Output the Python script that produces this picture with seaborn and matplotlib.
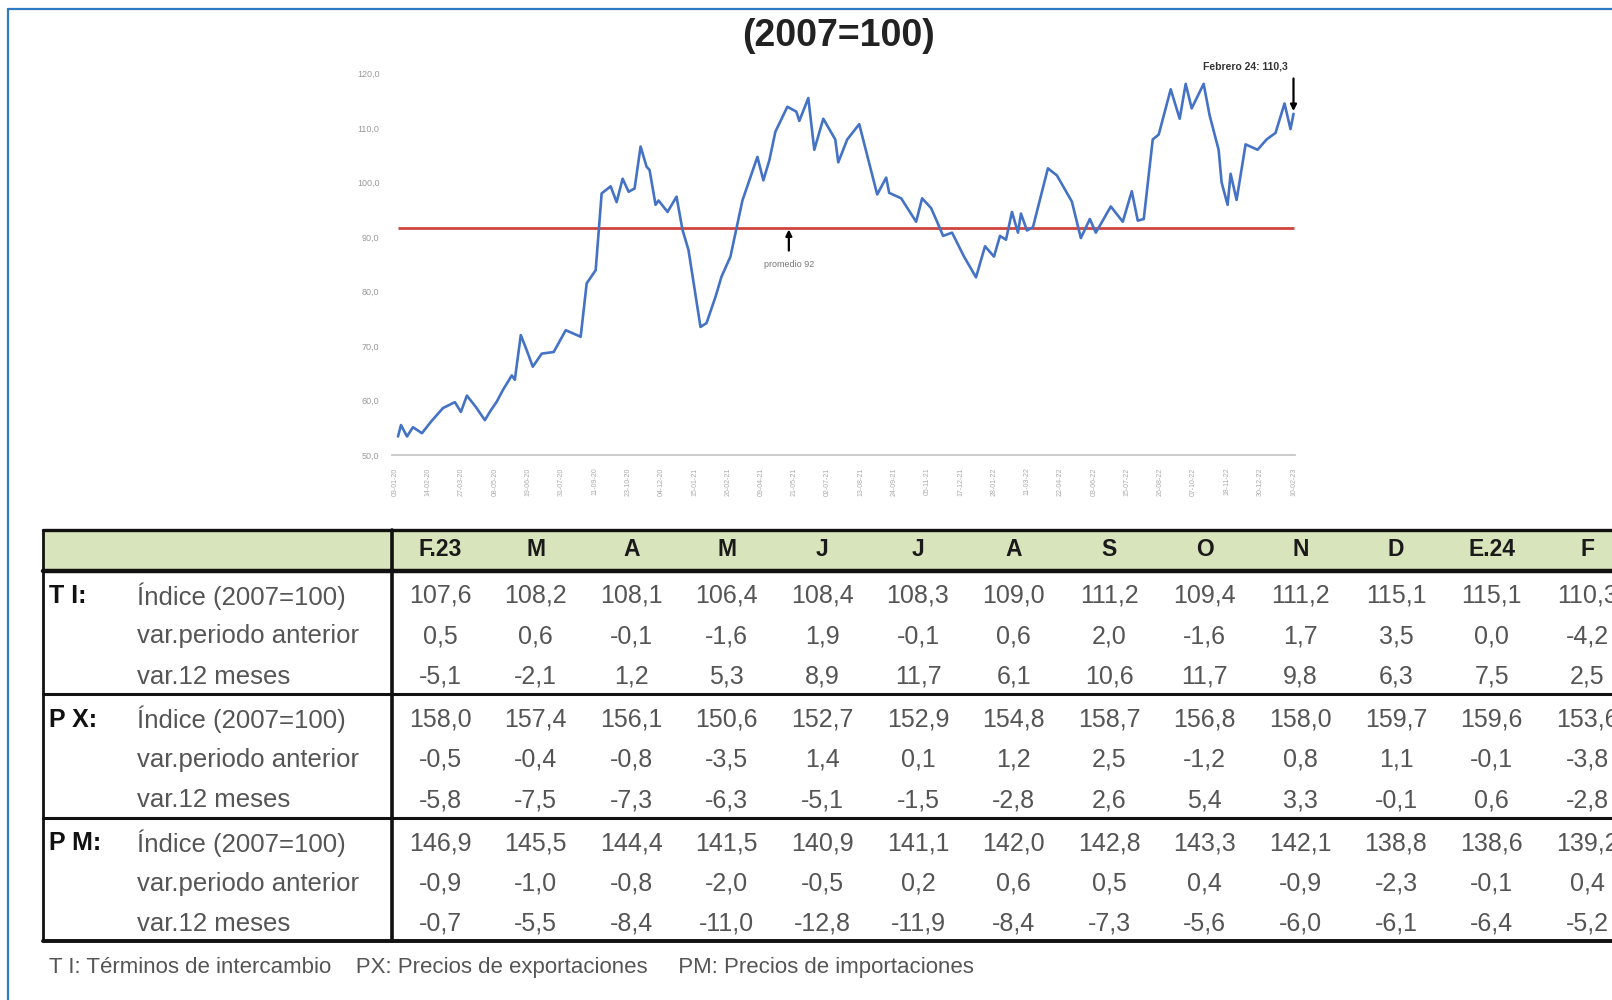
##
# Terms of trade index (2007=100): weekly line + summary table
##

import matplotlib
matplotlib.use("Agg")
import matplotlib.pyplot as plt
from matplotlib.patches import Rectangle
import pandas as pd
import seaborn as sns

# Weekly index (x = week number)
semana = [1, 2, 4, 6, 9, 12, 16, 20, 22, 24, 27, 30, 32, 34, 36, 39, 40, 42, 44, 46,
          49, 53, 57, 62, 64, 67, 69, 72, 74, 76, 78, 80, 82, 84, 85, 87, 88, 91, 94, 96,
          98, 102, 104, 107, 109, 112, 116, 118, 121, 123, 125, 127, 131, 134, 135, 138, 140, 143, 147, 148,
          151, 155, 161, 164, 165, 169, 174, 176, 179, 181, 183, 186, 190, 194, 197, 200, 202, 204, 206, 208,
          209, 211, 213, 218, 221, 226, 229, 232, 234, 239, 243, 246, 248, 250, 253, 255, 259, 262, 264, 266,
          270, 272, 275, 276, 278, 279, 281, 284, 288, 291, 294, 297, 299, 300]
indice = [53.4, 55.5, 53.4, 55.1, 54.0, 56.1, 58.6, 59.7, 57.9, 60.9, 58.8, 56.4, 58.2, 59.8, 61.9, 64.6, 63.8, 72.0, 69.2, 66.2,
          68.6, 68.9, 72.9, 71.7, 81.5, 83.9, 98.0, 99.3, 96.4, 100.7, 98.3, 98.9, 106.6, 102.9, 102.3, 95.9, 96.7, 94.6, 97.4, 91.3,
          87.6, 73.5, 74.2, 79.0, 82.7, 86.4, 96.7, 99.9, 104.7, 100.4, 104.1, 109.3, 113.9, 113.0, 111.3, 115.5, 106.0, 111.7, 107.9, 103.7,
          107.9, 110.7, 97.8, 100.9, 98.1, 97.1, 92.8, 97.1, 95.3, 92.8, 90.2, 90.8, 86.4, 82.6, 88.3, 86.4, 90.2, 89.5, 94.6, 90.8,
          94.3, 91.2, 91.8, 102.6, 101.3, 96.5, 89.8, 93.3, 90.8, 95.6, 92.8, 98.4, 93.0, 93.3, 107.9, 108.8, 117.1, 111.7, 118.1, 113.6,
          118.1, 112.3, 106.0, 100.0, 95.9, 101.6, 96.8, 107.0, 106.0, 107.9, 109.1, 114.5, 109.8, 112.6]
promedio = 91.6
texto_promedio = "promedio 92"
texto_ultimo = "Febrero 24: 110,3"

y_ticks = [50, 60, 70, 80, 90, 100, 110, 120]
x_tick_labels = ["03-01-20", "14-02-20", "27-03-20", "08-05-20", "19-06-20", "31-07-20", "11-09-20",
                 "23-10-20", "04-12-20", "15-01-21", "26-02-21", "09-04-21", "21-05-21", "02-07-21",
                 "13-08-21", "24-09-21", "05-11-21", "17-12-21", "28-01-22", "11-03-22", "22-04-22",
                 "03-06-22", "15-07-22", "26-08-22", "07-10-22", "18-11-22", "30-12-22", "10-02-23"]

# Table
meses = ["F.23", "M", "A", "M", "J", "J", "A", "S", "O", "N", "D", "E.24", "F"]
bloques = ["T I:", "P X:", "P M:"]
filas = ["Índice (2007=100)", "var.periodo anterior", "var.12 meses"]

ti_indice = ["107,6", "108,2", "108,1", "106,4", "108,4", "108,3", "109,0", "111,2", "109,4", "111,2", "115,1", "115,1", "110,3"]
ti_var = ["0,5", "0,6", "-0,1", "-1,6", "1,9", "-0,1", "0,6", "2,0", "-1,6", "1,7", "3,5", "0,0", "-4,2"]
ti_12m = ["-5,1", "-2,1", "1,2", "5,3", "8,9", "11,7", "6,1", "10,6", "11,7", "9,8", "6,3", "7,5", "2,5"]

px_indice = ["158,0", "157,4", "156,1", "150,6", "152,7", "152,9", "154,8", "158,7", "156,8", "158,0", "159,7", "159,6", "153,6"]
px_var = ["-0,5", "-0,4", "-0,8", "-3,5", "1,4", "0,1", "1,2", "2,5", "-1,2", "0,8", "1,1", "-0,1", "-3,8"]
px_12m = ["-5,8", "-7,5", "-7,3", "-6,3", "-5,1", "-1,5", "-2,8", "2,6", "5,4", "3,3", "-0,1", "0,6", "-2,8"]

pm_indice = ["146,9", "145,5", "144,4", "141,5", "140,9", "141,1", "142,0", "142,8", "143,3", "142,1", "138,8", "138,6", "139,2"]
pm_var = ["-0,9", "-1,0", "-0,8", "-2,0", "-0,5", "0,2", "0,6", "0,5", "0,4", "-0,9", "-2,3", "-0,1", "0,4"]
pm_12m = ["-0,7", "-5,5", "-8,4", "-11,0", "-12,8", "-11,9", "-8,4", "-7,3", "-5,6", "-6,0", "-6,1", "-6,4", "-5,2"]

nota = "T I: Términos de intercambio    PX: Precios de exportaciones     PM: Precios de importaciones"

df = pd.DataFrame({"semana": semana, "indice": indice})
tabla = [[ti_indice, ti_var, ti_12m], [px_indice, px_var, px_12m], [pm_indice, pm_var, pm_12m]]

sns.set_style("white")
plt.rcParams["font.family"] = ["Liberation Sans", "DejaVu Sans"]
FONT = ["Liberation Sans", "DejaVu Sans"]

fig = plt.figure(figsize=(16.12, 10), dpi=100)

# background axes in pixel units for table, border and title
bg = fig.add_axes([0, 0, 1, 1])
bg.set_xlim(0, 1612)
bg.set_ylim(1000, 0)
bg.axis("off")

# blue frame
bg.plot([8, 8], [9, 1000], color="#2E7BC4", lw=1.6)
bg.plot([8, 1612], [9, 9], color="#2E7BC4", lw=1.6)

bg.text(839, 36, "(2007=100)", ha="center", va="center", fontsize=27, fontweight="bold", color="#222222")

# table geometry
t_left, t_sep, t_right = 43, 392, 1640
t_top, t_head = 529.5, 571
block_h, row_h = 123.7, 40.3
col_x0, col_dx = 440, 95.6
row_y0 = 596

bg.add_patch(Rectangle((t_left, t_top), t_right - t_left, t_head - t_top, color="#D8E4BC", zorder=0))
for j, m in enumerate(meses):
    bg.text(col_x0 + j * col_dx, 550, m, ha="center", va="center", fontsize=16.5,
            fontweight="bold", color="#1a1a1a", family=FONT)

for b, bloque in enumerate(bloques):
    y_block = row_y0 + b * block_h
    bg.text(49, y_block, bloque, ha="left", va="center", fontsize=18, fontweight="bold",
            color="#111111", family=FONT)
    for r, fila in enumerate(filas):
        y = y_block + r * row_h
        bg.text(137, y, fila, ha="left", va="center", fontsize=18.5, color="#555555", family=FONT)
        for j, val in enumerate(tabla[b][r]):
            bg.text(col_x0 + j * col_dx, y, val, ha="center", va="center", fontsize=18,
                    color="#555555", family=FONT)

# table rules
t_bottom = t_head + 3 * block_h - 1
bg.plot([t_left, t_right], [t_top, t_top], color="#111111", lw=2.4)
bg.plot([t_left, t_right], [t_head, t_head], color="#111111", lw=3.2)
for b in range(1, 3):
    yb = t_head + b * block_h - 0.5
    bg.plot([t_left, t_right], [yb, yb], color="#111111", lw=2.2)
bg.plot([t_left, t_right], [t_bottom, t_bottom], color="#111111", lw=2.8)
bg.plot([t_left, t_left], [t_top, t_bottom], color="#111111", lw=2.0)
bg.plot([t_sep, t_sep], [t_top, t_bottom], color="#111111", lw=2.6)

bg.text(49, 968, nota, ha="left", va="center", fontsize=16, color="#555555", family=FONT)

# line chart
ax = fig.add_axes([392 / 1612, 1 - 455 / 1000, (1295 - 392) / 1612, (455 - 73.5) / 1000])
ax.patch.set_alpha(0)
sns.lineplot(data=df, x="semana", y="indice", ax=ax, color="#4472C4", lw=1.9)
ax.hlines(promedio, df["semana"].iloc[0], df["semana"].iloc[-1], color="#D0453F", lw=2.0, zorder=1)

ax.set_xlim(-1, 300.5)
ax.set_ylim(50, 120)
ax.set_yticks(y_ticks)
ax.set_yticklabels([f"{v:.1f}".replace(".", ",") for v in y_ticks], fontsize=6.5, color="#999999")
tick_pos = [i * 300 / (len(x_tick_labels) - 1) for i in range(len(x_tick_labels))]
ax.set_xticks(tick_pos)
ax.set_xticklabels(x_tick_labels, rotation=90, fontsize=5, color="#AAAAAA")
ax.tick_params(axis="both", length=0, pad=9)
ax.set_xlabel("")
ax.set_ylabel("")
for s in ["left", "top", "right"]:
    ax.spines[s].set_visible(False)
ax.spines["bottom"].set_color("#C8C8C8")
ax.spines["bottom"].set_linewidth(1.3)

# annotations
ax.annotate("", xy=(semana[-1], indice[-1]), xytext=(semana[-1], 119.6),
            arrowprops=dict(arrowstyle="-|>", color="black", lw=1.6, mutation_scale=9),
            annotation_clip=False)
ax.text(284, 121.3, texto_ultimo, ha="center", va="center", fontsize=7.5, fontweight="bold",
        color="#333333", clip_on=False)
ax.annotate("", xy=(131.5, promedio + 0.3), xytext=(131.5, 87.0),
            arrowprops=dict(arrowstyle="-|>", color="black", lw=1.6, mutation_scale=9))
ax.text(131.5, 85.0, texto_promedio, ha="center", va="center", fontsize=6.5, color="#777777")

plt.savefig("out.png", dpi=100)
